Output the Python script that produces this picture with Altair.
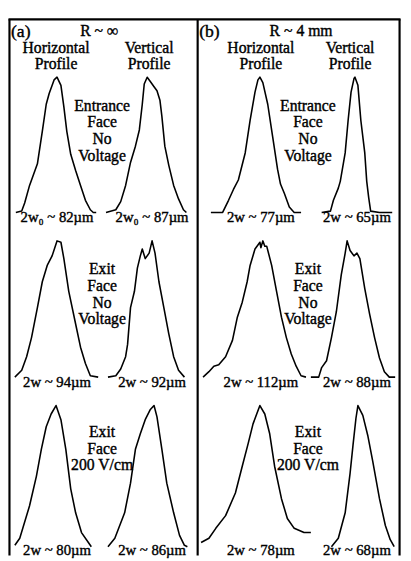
import altair as alt
import pandas as pd

# ---------------- text content ----------------
PANEL_TAGS = ["(a)", "(b)"]
PANEL_TITLES = ["R ~ ∞", "R ~ 4 mm"]
PROFILE_HEADERS = ["Horizontal\nProfile", "Vertical\nProfile"]
CONDITIONS = ["Entrance\nFace\nNo\nVoltage", "Exit\nFace\nNo\nVoltage", "Exit\nFace\n200 V/cm"]
WIDTH_LABELS_A = [["2w₀ ~ 82µm", "2w₀ ~ 87µm"], ["2w ~ 94µm", "2w ~ 92µm"], ["2w ~ 80µm", "2w ~ 86µm"]]
WIDTH_LABELS_B = [["2w ~ 77µm", "2w ~ 65µm"], ["2w ~ 112µm", "2w ~ 88µm"], ["2w ~ 78µm", "2w ~ 68µm"]]

# ---------------- beam profiles (position a.u., normalised intensity) ----------------
A1H_POS = [-42, -36, -33, -28, -20, -15, -11, -8, -3, 0, 4, 7, 10, 14, 19, 24, 29, 34, 37, 40]
A1H_INT = [0, .01, .07, .20, .36, .60, .80, .88, .98, 1, .94, .78, .60, .43, .31, .20, .09, .02, 0, 0]
A1V_POS = [-45, -35, -30, -25, -20, -15, -11, -8, -6, -3, 0, 4, 7, 10, 12, 15, 19, 24, 29, 34, 37]
A1V_INT = [0, .02, .08, .20, .37, .49, .61, .80, .95, 1, .97, .93, .90, .83, .71, .49, .35, .20, .10, .02, 0]
A2H_POS = [-43, -36, -31, -26, -20, -15, -10, -5, 0, 4, 7, 12, 19, 24, 29, 34, 42]
A2H_INT = [0, .05, .15, .29, .51, .70, .82, .89, 1, .99, .87, .63, .39, .22, .10, .01, 0]
A2V_POS = [-43, -35, -30, -25, -23, -20, -16, -13, -10, -8, -5, -1, 2, 5, 9, 14, 19, 24, 29, 35]
A2V_INT = [0, .01, .06, .15, .24, .51, .63, .80, .89, .94, .87, .91, 1, .91, .70, .51, .32, .15, .05, 0]
A3H_POS = [-43, -38, -28, -21, -16, -11, -6, -1, 4, 9, 14, 19, 25, 32, 35]
A3H_INT = [.01, .06, .29, .50, .69, .85, .94, 1, .90, .69, .41, .24, .10, .03, 0]
A3V_POS = [-43, -36, -26, -20, -15, -10, -5, 0, 4, 7, 12, 17, 24, 30, 35, 38]
A3V_INT = [0, .06, .24, .45, .69, .80, .90, .97, 1, .92, .69, .45, .24, .08, .01, 0]

B1H_POS = [-51, -39, -33, -28, -23, -16, -11, -6, -3, -1, 2, 7, 12, 17, 20, 24, 29, 34, 41]
B1H_INT = [0, 0, .09, .17, .24, .44, .68, .89, .98, 1, .96, .80, .56, .32, .21, .14, .04, 0, 0]
B1V_POS = [-33, -24, -21, -16, -14, -9, -6, -3, 0, 1, 4, 7, 11, 13, 15, 17, 26, 39]
B1V_INT = [0, .01, .09, .18, .23, .44, .68, .89, .99, 1, .94, .68, .44, .23, .11, .01, 0, 0]
B2H_POS = [-59, -53, -48, -43, -36, -29, -24, -19, -14, -11, -6, -3, -1, 0, 2, 4, 6, 11, 16, 21, 26, 31, 36, 41, 46]
B2H_INT = [0, .04, .08, .09, .15, .27, .44, .55, .70, .82, .94, .97, .99, .95, 1, .96, .96, .82, .63, .44, .29, .17, .08, .01, 0]
B2V_POS = [-44, -36, -33, -28, -23, -18, -13, -9, -7, -4, 0, 3, 6, 11, 16, 21, 26, 31, 36, 42]
B2V_INT = [0, 0, .07, .12, .29, .48, .75, .91, 1, .93, .89, .91, .87, .65, .46, .29, .14, .04, 0, 0]
B3H_POS = [-61, -53, -46, -36, -26, -19, -13, -8, -1, 4, 9, 14, 21, 27, 34, 44, 51]
B3H_INT = [.03, .06, .13, .22, .38, .57, .73, .87, 1, .94, .80, .57, .34, .20, .13, .10, .10]
B3V_POS = [-23, -16, -9, -4, -1, 2, 4, 9, 14, 19, 26, 32, 37, 41]
B3V_INT = [0, .06, .24, .52, .72, .91, 1, .93, .79, .61, .34, .15, .05, 0]

PROFILES = {
    (0, 0, 0): (A1H_POS, A1H_INT), (0, 0, 1): (A1V_POS, A1V_INT),
    (0, 1, 0): (A2H_POS, A2H_INT), (0, 1, 1): (A2V_POS, A2V_INT),
    (0, 2, 0): (A3H_POS, A3H_INT), (0, 2, 1): (A3V_POS, A3V_INT),
    (1, 0, 0): (B1H_POS, B1H_INT), (1, 0, 1): (B1V_POS, B1V_INT),
    (1, 1, 0): (B2H_POS, B2H_INT), (1, 1, 1): (B2V_POS, B2V_INT),
    (1, 2, 0): (B3H_POS, B3H_INT), (1, 2, 1): (B3V_POS, B3V_INT),
}

# ---------------- layout ----------------
PANEL_LEFT = [9.5, 201.5]
RIGHT_EDGE = 407.5
TOP_EDGE = 14
BOTTOM_EDGE = 561
SLOT_X = [[58, 153], [266, 361]]
HEADER_X = [[57, 152], [266, 357]]
LABEL_X = [[58, 155], [266, 364]]
TITLE_X = [101, 307]
COND_X = [104, 314]
ROW_BASE = [211, 379, 552]
ROW_AMP = [138, 139, 144]
COND_Y = [107, 274, 440]
LABEL_Y = [221, 389, 560]

prof_rows = []
for (p, r, o), (pos, inten) in PROFILES.items():
    for i, (u, v) in enumerate(zip(pos, inten)):
        prof_rows.append(dict(id=f"{p}{r}{o}", k=i, X=SLOT_X[p][o] + u, Y=ROW_BASE[r] - ROW_AMP[r] * v))
prof_df = pd.DataFrame(prof_rows)

border_df = pd.DataFrame([
    dict(X=PANEL_LEFT[0], Y=TOP_EDGE, X2=PANEL_LEFT[0], Y2=BOTTOM_EDGE),
    dict(X=PANEL_LEFT[1], Y=TOP_EDGE, X2=PANEL_LEFT[1], Y2=BOTTOM_EDGE),
    dict(X=RIGHT_EDGE, Y=TOP_EDGE, X2=RIGHT_EDGE, Y2=BOTTOM_EDGE),
    dict(X=PANEL_LEFT[0] - 1, Y=TOP_EDGE, X2=RIGHT_EDGE + 1, Y2=TOP_EDGE),
])

center_rows = []
width_labels = [WIDTH_LABELS_A, WIDTH_LABELS_B]
for p in range(2):
    center_rows.append(dict(text=PANEL_TITLES[p], X=TITLE_X[p], Y=31, s=16))
    for o in range(2):
        center_rows.append(dict(text=PROFILE_HEADERS[o], X=HEADER_X[p][o], Y=48, s=16))
    for r in range(3):
        center_rows.append(dict(text=CONDITIONS[r], X=COND_X[p], Y=COND_Y[r], s=16))
        for o in range(2):
            center_rows.append(dict(text=width_labels[p][r][o], X=LABEL_X[p][o], Y=LABEL_Y[r], s=15))
center_df = pd.DataFrame(center_rows)

tag_df = pd.DataFrame([dict(text=PANEL_TAGS[p], X=PANEL_LEFT[p] + 1.5, Y=32) for p in range(2)])

xs = alt.Scale(domain=[8, 411], nice=False, zero=False)
ys = alt.Scale(domain=[8, 561], reverse=True, nice=False, zero=False)
X = lambda f="X": alt.X(f"{f}:Q", scale=xs, axis=None)
Y = lambda f="Y": alt.Y(f"{f}:Q", scale=ys, axis=None)

lines = alt.Chart(prof_df).mark_line(
    color="black", strokeWidth=1.6, strokeJoin="round").encode(
    x=X(), y=Y(), detail="id:N", order="k:Q")
rules = alt.Chart(border_df).mark_rule(color="black", strokeWidth=2.2).encode(
    x=X(), y=Y(), x2="X2:Q", y2="Y2:Q")
texts = alt.Chart(center_df).mark_text(
    align="center", baseline="alphabetic", font="Liberation Serif", lineBreak="\n",
    lineHeight=17, color="black", stroke="black", strokeWidth=0.4).encode(
    x=X(), y=Y(), text="text:N", size=alt.Size("s:Q", scale=None))
tags = alt.Chart(tag_df).mark_text(
    align="left", baseline="alphabetic", font="Liberation Serif", fontSize=18, color="black",
    stroke="black", strokeWidth=0.4).encode(
    x=X(), y=Y(), text="text:N")

chart = alt.layer(rules, lines, texts, tags).properties(
    width=403, height=553, autosize=alt.AutoSizeParams(type="none"), padding=0
).configure_view(stroke=None)

chart.save("out.html", embed_options={"renderer": "svg", "actions": False})
